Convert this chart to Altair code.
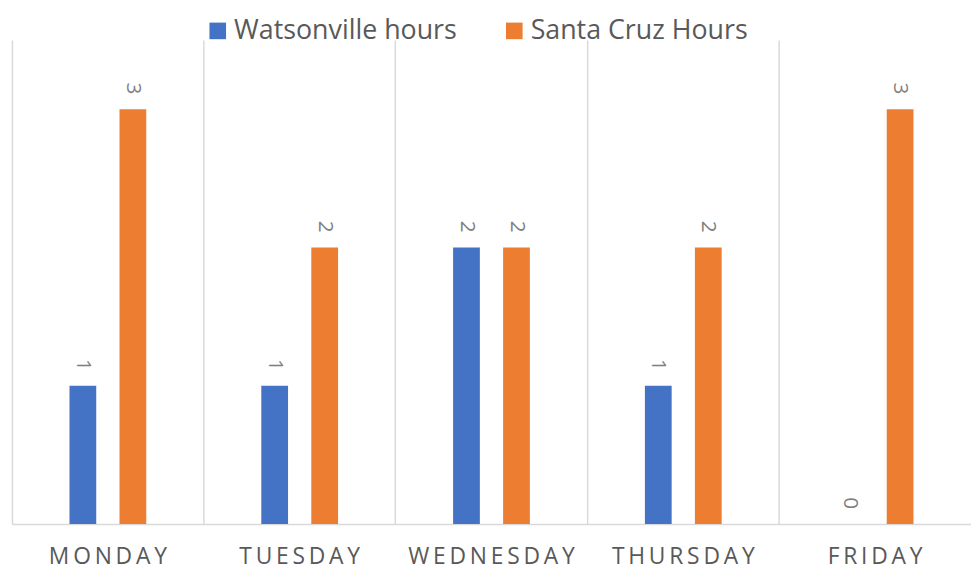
import altair as alt
import pandas as pd

days = ["Monday", "Tuesday", "Wednesday", "Thursday", "Friday"]
series = ["Watsonville hours", "Santa Cruz Hours"]
watsonville = [1, 1, 2, 1, 0]
santa_cruz = [3, 2, 2, 2, 3]
colors = ["#4472C4", "#ED7D31"]

rows = []
for i, d in enumerate(days):
    rows.append({"day": d, "series": series[0], "hours": watsonville[i]})
    rows.append({"day": d, "series": series[1], "hours": santa_cruz[i]})
df = pd.DataFrame(rows)

W = 967
H = 488
FONT = "Open Sans"
GREY = "#595959"

x = alt.X(
    "day:N",
    sort=days,
    scale=alt.Scale(paddingInner=0, paddingOuter=0),
    axis=alt.Axis(
        title=None,
        bandPosition=0,
        grid=True,
        gridColor="#d9d9d9",
        gridWidth=1.5,
        ticks=False,
        domainColor="#d9d9d9",
        domainWidth=1.5,
        labelAngle=0,
        labelFontSize=23,
        labelFont=FONT,
        labelColor=GREY,
        labelPadding=22,
        labelFlush=False,
        labelOverlap=False,
        labelLimit=0,
        labelExpr="join(split(upper(datum.label), ''), '\u2009')",
    ),
)
# side slots pad the two series towards the centre of each day
offset_domain = ["_left"] + series + ["_right"]
xo = alt.XOffset("series:N",
                 scale=alt.Scale(domain=offset_domain, paddingInner=0.465,
                                 paddingOuter=0.15))
y = alt.Y("hours:Q", scale=alt.Scale(domain=[0, 3.5]), axis=None)

bars = alt.Chart(df).mark_bar().encode(
    x=x,
    xOffset=xo,
    y=y,
    color=alt.Color(
        "series:N",
        sort=series,
        scale=alt.Scale(domain=series, range=colors),
        legend=alt.Legend(
            title=None,
            orient="none",
            legendX=194,
            legendY=-23,
            direction="horizontal",
            symbolType="square",
            symbolSize=280,
            symbolStrokeWidth=0,
            labelFontSize=27,
            labelFont=FONT,
            labelColor=GREY,
            labelLimit=0,
            columnPadding=44,
            labelOffset=3,
            padding=0,
        ),
    ),
)

labels = alt.Chart(df).mark_text(
    angle=90, align="right", baseline="middle", dx=-15,
    fontSize=21, font=FONT, color="#7f7f7f",
).encode(x=x, xOffset=xo, y=y, text="hours:Q")

chart = (bars + labels).properties(
    width=W,
    height=H,
    autosize="none",
    padding={"left": 4, "top": 30, "right": 0, "bottom": 45},
).configure_view(stroke=None)

chart.save("out.html", embed_options={"renderer": "svg", "actions": False})
